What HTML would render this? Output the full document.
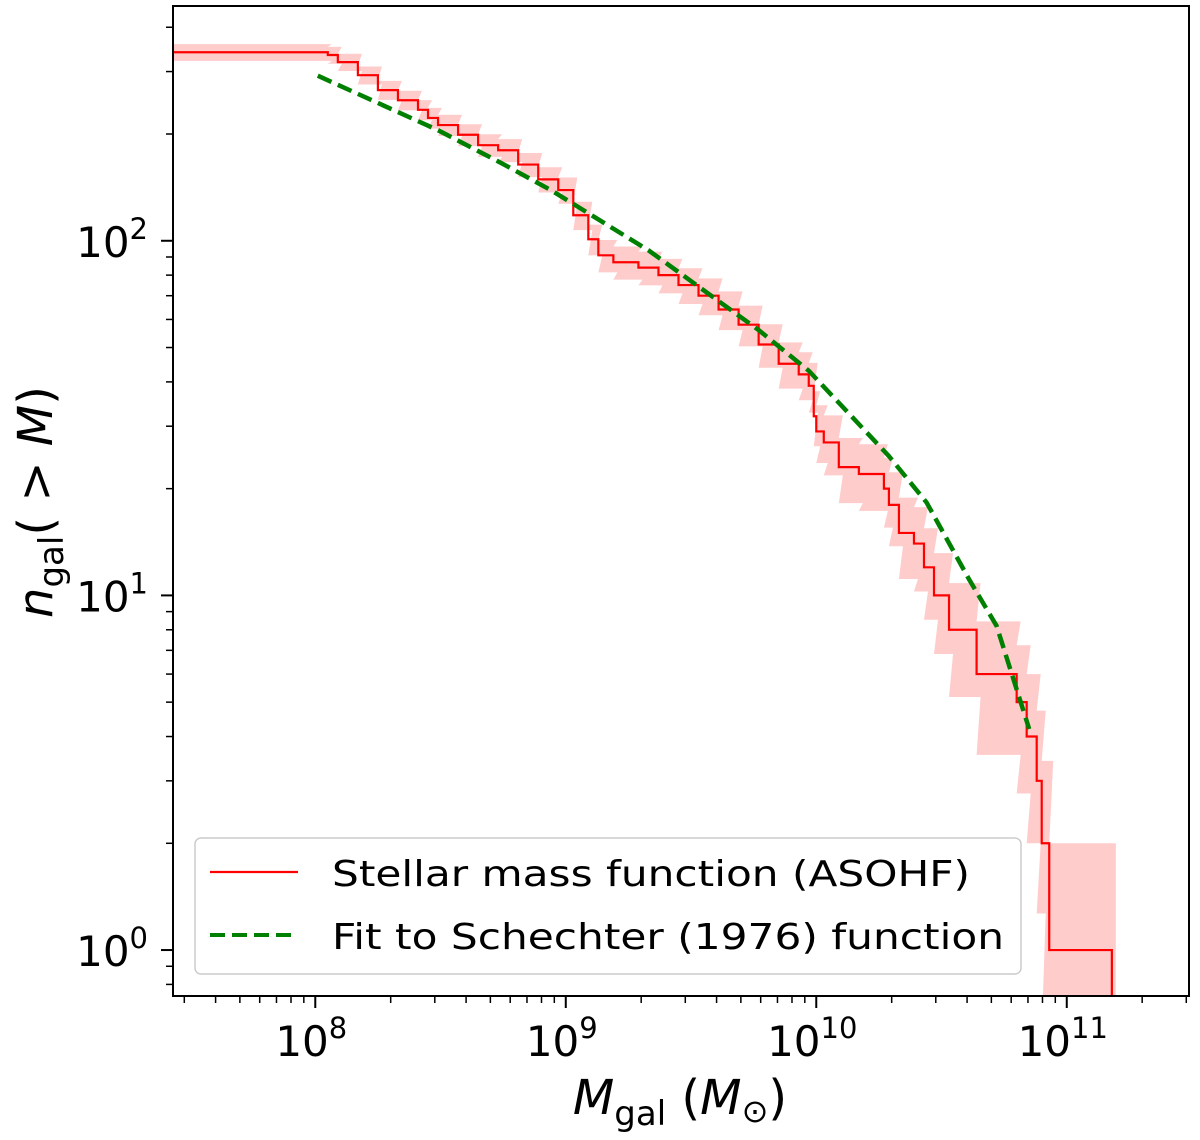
<!DOCTYPE html>
<html><head><meta charset="utf-8"><style>
body{margin:0;background:#fff}
svg{display:block;font-family:"DejaVu Sans","Liberation Sans",sans-serif}
</style></head><body>
<svg id="chart" width="1200" height="1140" viewBox="0 0 1200 1140">
<g id="plot"></g>
<g>
<text x="680" y="1114" text-anchor="middle" font-size="48" font-family="DejaVu Sans, sans-serif"><tspan font-style="italic">M</tspan><tspan font-size="34" dy="11">gal</tspan><tspan dy="-11"> (</tspan><tspan font-style="italic">M</tspan><tspan font-size="32" dy="8">⊙</tspan><tspan dy="-8">)</tspan></text>
</g>
<g>
<text transform="translate(52,502) rotate(-90)" text-anchor="middle" font-size="48" font-family="DejaVu Sans, sans-serif"><tspan font-style="italic">n</tspan><tspan font-size="34" dy="11">gal</tspan><tspan dy="-11">( &gt; </tspan><tspan font-style="italic">M</tspan>)</text>
</g>
<g>
<rect x="195" y="838" width="826" height="136" rx="6" fill="#fff" fill-opacity="0.8" stroke="#ccc" stroke-width="1.5"/>
<g>
<line x1="210" y1="872" x2="298" y2="872" stroke="#ff0000" stroke-width="2.2"/>
<text x="332" y="886" font-size="36" textLength="638" lengthAdjust="spacingAndGlyphs">Stellar mass function (ASOHF)</text>
</g>
<g>
<line x1="210" y1="935" x2="298" y2="935" stroke="#008000" stroke-width="4" stroke-dasharray="15,7"/>
<text x="332" y="949" font-size="36" textLength="672" lengthAdjust="spacingAndGlyphs">Fit to Schechter (1976) function</text>
</g>
</g>
</svg>
<script>
// Stellar mass function: step positions (log10 M) and cumulative counts
const stepLogMass = [7.30,8.05,8.09,8.17,8.25,8.33,8.41,8.45,8.49,8.57,8.65,8.73,8.81,8.89,8.97,9.03,9.09,9.13,9.19,9.29,9.37,9.45,9.53,9.61,9.69,9.77,9.85,9.93,9.97,9.99,10.00,10.03,10.09,10.17,10.27,10.29,10.33,10.39,10.43,10.47,10.53,10.64,10.80,10.84,10.88,10.90,10.93,10.94];
const stepCounts = [340,334,319,293,266,249,234,222,212,199,186,180,164,149,139,118,101,91,87,84,80,75,70,64,58,51,45,42,39,32,29,27,23,22,20,18,15,14,12,10,8,6,5,4,3,2,1];
const stepEndLogMass = 11.18;
// Schechter fit curve
const fitLogMass = [8.01,8.49,8.74,8.94,9.33,9.77,9.97,10.29,10.44,10.61,10.72,10.85];
const fitCounts = [292,205,166,139,94,56,43,24.7,18.3,11.1,8.2,4.2];
// Ticks
const xMajor = [8,9,10,11];
const yMajor = [0,1,2];

const L=173,R=1189,T=6,B=996;
const xMin=7.432,xMax=11.488,yMin=-0.1296,yMax=2.662;
const X=v=>L+(v-xMin)/(xMax-xMin)*(R-L);
const Y=n=>B-(Math.log10(n)-yMin)/(yMax-yMin)*(B-T);
const NS="http://www.w3.org/2000/svg";
const svg=document.getElementById('chart');
const g=document.getElementById('plot');
function mk(tag,attrs,parent){const e=document.createElementNS(NS,tag);for(const k in attrs)e.setAttribute(k,attrs[k]);(parent||g).appendChild(e);return e;}

const defs=mk('defs',{},svg);
const cp=mk('clipPath',{id:'clip'},defs);
mk('rect',{x:L,y:T,width:R-L,height:B-T},cp);
const data=mk('g',{'clip-path':'url(#clip)'});



let up=[],lo=[];
for(let i=0;i<stepCounts.length;i++){
  const x0=X(stepLogMass[i]),x1=X(i+1<stepCounts.length?stepLogMass[i+1]:stepEndLogMass)+4;
  const n=stepCounts[i],s=Math.sqrt(n);
  const yu=Y(n+s),yl=(n-s)>0?Y(n-s):B+50;
  up.push([x0,yu],[x1,yu]);lo.push([x0,yl],[x1,yl]);
}
const bandPts=up.concat(lo.reverse()).map(p=>p.join(',')).join(' ');
const band=mk('polygon',{points:bandPts,fill:'#ffcccc',stroke:'none'},data);



let d='';
for(let i=0;i<stepCounts.length;i++){
  const x0=X(stepLogMass[i]),x1=X(i+1<stepCounts.length?stepLogMass[i+1]:stepEndLogMass);
  const y=Y(stepCounts[i]);
  d+=(i===0?'M':'L')+x0+','+y+' L'+x1+','+y+' ';
}
d+='L'+X(stepEndLogMass)+','+(B+20);
const line=mk('path',{d:d,fill:'none',stroke:'#ff0000','stroke-width':2.2},data);



const fitPts=fitLogMass.map((m,i)=>X(m)+','+Y(fitCounts[i])).join(' ');
const fit=mk('polyline',{points:fitPts,fill:'none',stroke:'#008000','stroke-width':4.5,'stroke-dasharray':'15,7'},data);



const frame=mk('rect',{x:L,y:T,width:R-L,height:B-T,fill:'none',stroke:'#000','stroke-width':2});



for(let dec=7;dec<=11;dec++){
  for(let k=1;k<10;k++){
    const v=dec+Math.log10(k);
    if(v<xMin||v>xMax)continue;
    const major=k===1;
    const t=mk('line',{x1:X(v),x2:X(v),y1:B,y2:B+(major?12:7),stroke:'#000','stroke-width':major?2:1.5});
    
    
  }
}
xMajor.forEach(v=>{
  const t=mk('text',{x:X(v)-4,y:1056,'text-anchor':'middle','font-size':42});
  
  
  t.innerHTML='10<tspan dy="-18" font-size="29">'+v+'</tspan>';
});
for(let dec=-1;dec<=2;dec++){
  for(let k=1;k<10;k++){
    const v=dec+Math.log10(k);
    if(v<yMin||v>yMax)continue;
    const major=k===1;
    const y=Y(Math.pow(10,v));
    const t=mk('line',{x1:L-(major?12:7),x2:L,y1:y,y2:y,stroke:'#000','stroke-width':major?2:1.5});
    
    
  }
}
yMajor.forEach(v=>{
  const t=mk('text',{x:148,y:Y(Math.pow(10,v))+16,'text-anchor':'end','font-size':42});
  
  
  t.innerHTML='10<tspan dy="-18" font-size="29">'+v+'</tspan>';
});
</script>
</body></html>
